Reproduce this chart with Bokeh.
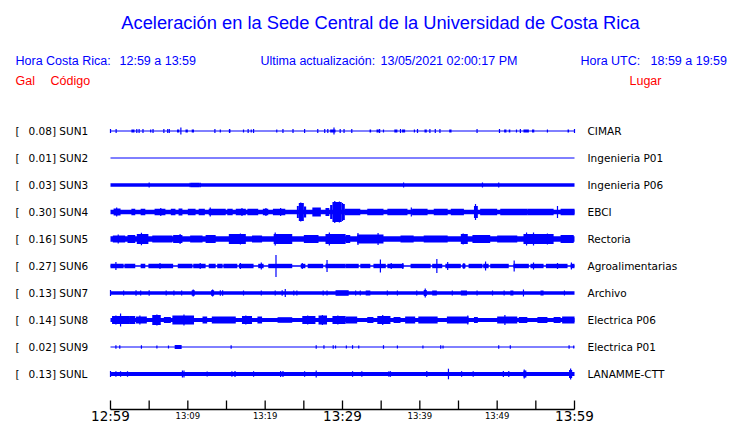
from bokeh.plotting import figure
from bokeh.models import Range1d
from bokeh.core.properties import value
from bokeh.embed import file_html
from bokeh.resources import INLINE

# ---------------- data ----------------
stations = ["SUN1", "SUN2", "SUN3", "SUN4", "SUN5", "SUN6", "SUN7", "SUN8", "SUN9", "SUNL"]
peaks_gal = [0.08, 0.01, 0.03, 0.30, 0.16, 0.27, 0.13, 0.14, 0.02, 0.13]
places = ["CIMAR", "Ingenieria P01", "Ingenieria P06", "EBCI", "Rectoria",
          "Agroalimentarias", "Archivo", "Electrica P06", "Electrica P01", "LANAMME-CTT"]

# background noise half-amplitude of each trace (trace units, 27 per row)
noise_level = [0.5, 0.5, 1.8, 2.3, 2.7, 0.7, 1.7, 2.0, 0.5, 2.0]

# minutes after 12:59 and tick labels
tick_minutes = [0, 5, 10, 15, 20, 25, 30, 35, 40, 45, 50, 55, 60]
label_minutes = [0, 10, 20, 30, 40, 50, 60]
label_texts = ["12:59", "13:09", "13:19", "13:29", "13:39", "13:49", "13:59"]
label_major = [True, False, False, True, False, False, True]

# bursts: (start min, end min, half amplitude) ; spikes: (min, half amplitude)
SUN1_bursts = [(2.7, 3.1, 1.5), (8.6, 8.9, 1.5), (9.7, 10.0, 1.5), (10.5, 10.8, 1.5), (15.3, 15.5, 1.5),
               (28.4, 29.1, 1.5), (33.5, 33.7, 1.5), (34.4, 34.7, 1.5), (36.7, 37.1, 1.5), (37.7, 38.1, 1.5),
               (40.6, 40.9, 1.5), (43.8, 44.1, 1.5), (50.9, 51.2, 1.5), (51.5, 51.7, 1.5), (53.4, 54.1, 1.5),
               (54.5, 54.8, 1.5), (59.1, 59.3, 1.5)]
SUN1_spikes = [(0.0, 2), (0.73, 2), (3.4, 2), (3.7, 2), (4.2, 2), (5.2, 1.5), (5.5, 2), (6.9, 2), (7.4, 2),
               (7.6, 2), (9.1, 3.5), (13.5, 2), (14.2, 1.5), (15.4, 2), (17.2, 1.5), (17.8, 2), (18.2, 1.5),
               (18.5, 2), (21.5, 1.5), (22.3, 2), (23.6, 2), (25.1, 2), (26.8, 2), (27.7, 2), (28.1, 2),
               (28.9, 3.5), (29.7, 2), (30.2, 2), (31.2, 2), (34.8, 2), (35.3, 1.5), (37.5, 2), (39.3, 1.5),
               (39.7, 2), (41.3, 2), (42.0, 2), (42.6, 2), (47.4, 2), (50.3, 2), (52.5, 1.5), (53.0, 2),
               (56.5, 1.5), (60.0, 2)]
SUN2_bursts = []
SUN2_spikes = []
SUN3_bursts = [(10.4, 11.5, 2.2)]
SUN3_spikes = [(5.0, 2.5), (10.3, 2.3), (11.6, 2.3), (37.9, 2.5), (48.1, 2.5), (50.2, 2.5)]
SUN4_bursts = [(0.4, 1.3, 3.5), (2.7, 3.2, 3.3), (3.9, 4.5, 3.3), (5.7, 7.1, 3.3), (7.8, 8.4, 3.3),
               (8.8, 9.3, 3.5), (10.0, 11.0, 3.3), (11.4, 12.2, 3.3), (12.7, 14.9, 3.3), (15.1, 15.8, 3.3),
               (16.2, 17.5, 3.3), (17.7, 19.1, 3.3), (19.7, 20.4, 3.3), (21.0, 22.6, 3.3),
               (24.1, 24.35, 6), (24.35, 25.0, 9), (25.0, 25.3, 5.5), (26.1, 27.2, 4.5), (27.8, 28.3, 4),
               (28.4, 28.7, 7), (28.7, 29.9, 10), (29.9, 30.3, 8), (30.3, 32.3, 3.3), (33.2, 35.3, 3.3),
               (35.8, 38.4, 3.3), (39.0, 41.0, 3.3), (41.8, 43.6, 3.3), (44.0, 45.7, 3.3), (47.0, 47.5, 6),
               (47.8, 50.0, 3.3), (50.4, 53.9, 3.3), (53.9, 57.3, 3.3), (58.2, 60.0, 3.3)]
SUN4_spikes = [(24.6, 9.5), (29.0, 11), (29.6, 10.5), (30.0, 9), (47.2, 8), (38.9, 4.5), (57.8, 6),
               (0.8, 4.5), (6.5, 4), (12.9, 4.5), (17.0, 4), (20.1, 4), (22.0, 4)]
SUN5_bursts = [(0.3, 1.9, 3.5), (2.2, 3.2, 4), (3.4, 4.9, 5), (5.4, 8.0, 3.6), (8.1, 9.3, 4), (10.3, 11.9, 3.6),
               (12.3, 13.6, 4), (15.3, 17.5, 5), (18.3, 19.6, 3.6), (21.1, 23.5, 5), (25.0, 26.9, 4),
               (27.8, 30.4, 5), (30.4, 31.0, 4), (31.9, 35.3, 4.5), (37.5, 39.2, 3.6), (40.5, 43.6, 3.6),
               (45.3, 46.2, 5), (46.8, 49.1, 4), (50.0, 52.6, 3.6), (53.4, 57.3, 5), (58.2, 59.9, 4)]
SUN5_spikes = [(4.0, 6.3), (16.8, 5.5), (21.3, 6.5), (28.3, 6.5), (32.0, 6), (34.6, 6), (45.6, 5.5),
               (53.8, 6.5), (54.7, 6.5), (56.5, 5.5), (1.0, 4.5), (9.0, 5)]
SUN6_bursts = [(0.0, 1.7, 2.2), (1.8, 3.2, 2.2), (3.9, 4.5, 2.2), (4.9, 8.1, 2.2), (8.7, 10.6, 2.2),
               (10.7, 12.3, 2.2), (12.7, 13.6, 2.2), (13.8, 14.5, 2.2), (14.6, 16.4, 2.2), (16.6, 18.5, 2.2),
               (19.1, 19.8, 2.2), (20.4, 23.5, 2.2), (24.6, 25.2, 2.2), (25.5, 27.5, 2.2), (27.8, 30.4, 2.2),
               (30.4, 32.1, 2.2), (32.3, 33.6, 2.2), (34.0, 35.6, 2.2), (35.8, 37.9, 2.2), (38.8, 41.4, 2.2),
               (41.6, 42.9, 2.2), (43.3, 45.3, 2.2), (45.5, 45.9, 2.2), (46.3, 48.1, 2.2), (48.2, 48.9, 2.2),
               (49.1, 51.5, 2.2), (52.1, 54.1, 2.2), (54.3, 56.0, 2.2), (56.3, 59.1, 2.2), (59.5, 60.0, 2.2)]
SUN6_spikes = [(0.7, 4), (6.4, 3), (11.6, 3), (16.8, 3), (19.5, 3.5), (21.4, 11), (24.8, 3), (28.0, 6),
               (34.9, 6.5), (36.3, 3), (37.8, 3), (42.2, 7), (43.6, 4), (45.7, 3), (48.5, 4.5), (52.2, 5.5),
               (54.7, 3.5), (57.8, 3), (59.6, 3.5)]
SUN7_bursts = [(29.1, 30.8, 2.8), (33.0, 33.6, 2.5), (40.5, 40.9, 3), (41.6, 42.2, 2.5), (45.3, 46.1, 2.5),
               (51.7, 52.1, 2.5), (55.6, 56.0, 2.5), (13.0, 13.4, 2.8), (10.5, 10.9, 2.8)]
SUN7_spikes = [(0.0, 3), (1.7, 2.5), (3.3, 2.8), (3.9, 2.5), (5.0, 2.8), (7.2, 2.5), (8.2, 2.5), (9.2, 2.5),
               (10.7, 3.5), (13.2, 3.5), (14.2, 2.8), (14.5, 2.8), (17.2, 2.5), (19.5, 2.5), (21.3, 2.5),
               (22.2, 2.8), (22.6, 4), (23.7, 2.5), (24.1, 2.5), (27.5, 2.5), (28.0, 2.5), (31.7, 2.5),
               (32.3, 2.5), (35.8, 2.5), (37.1, 2.5), (39.6, 2.5), (40.7, 4.5), (44.2, 2.5), (47.4, 2.5),
               (49.4, 2.5), (50.9, 2.5), (53.4, 3.5), (58.7, 2.5)]
SUN8_bursts = [(0.2, 2.4, 4), (2.4, 3.2, 4), (3.3, 4.7, 3.5), (5.4, 6.5, 5), (6.9, 7.8, 3), (8.0, 10.8, 4.5),
               (11.9, 12.5, 3.5), (13.1, 16.2, 3.5), (17.0, 18.3, 4), (19.0, 19.6, 3.5), (21.6, 23.5, 2.8),
               (24.8, 26.5, 4), (26.9, 28.0, 4.5), (28.7, 30.4, 4), (30.4, 31.9, 3.5), (33.2, 34.0, 3),
               (34.5, 36.2, 4), (36.6, 37.5, 3), (38.1, 39.4, 3.5), (39.8, 42.3, 3.5), (43.5, 46.3, 3.5),
               (47.0, 47.5, 3), (50.0, 52.6, 3.5), (52.8, 53.9, 3), (55.2, 56.5, 3), (57.3, 58.2, 3),
               (58.4, 60.0, 3.5)]
SUN8_spikes = [(1.3, 6.5), (6.0, 5.5), (9.5, 5.5), (46.2, 4.5), (51.0, 5), (0.7, 4.5), (3.8, 4.5),
               (17.5, 4.5), (25.5, 4.5), (27.4, 5), (29.4, 4.5), (35.2, 5)]
SUN9_bursts = [(8.3, 9.2, 2)]
SUN9_spikes = [(0.7, 1.8), (1.2, 1.8), (4.0, 1.8), (6.0, 1.5), (7.5, 1.5), (15.6, 1.8), (26.6, 1.8),
               (27.6, 1.8), (28.8, 1.8), (29.1, 1.5), (30.5, 1.5), (31.3, 1.8), (32.1, 1.5), (35.3, 1.8),
               (37.1, 1.5), (40.4, 1.5), (42.7, 1.8), (43.0, 1.5), (50.2, 1.8), (51.7, 1.8), (59.3, 1.8),
               (59.9, 1.5)]
SUNL_bursts = [(53.4, 53.7, 3.3), (59.3, 59.7, 4)]
SUNL_spikes = [(0.0, 3), (0.7, 2.8), (1.3, 2.8), (2.2, 2.8), (9.3, 3.5), (9.5, 3.5), (12.5, 2.5), (15.7, 2.8),
               (16.1, 3), (18.5, 2.8), (22.0, 3), (22.3, 3), (25.1, 2.8), (26.6, 3.5), (31.3, 2.8), (32.5, 2.8),
               (36.0, 2.8), (36.2, 2.8), (40.9, 3), (43.7, 5.3), (45.4, 2.8), (46.9, 2.8), (50.8, 3),
               (51.5, 3), (53.5, 4.5), (53.7, 3.5), (59.5, 5.5), (59.4, 4)]

all_bursts = [SUN1_bursts, SUN2_bursts, SUN3_bursts, SUN4_bursts, SUN5_bursts,
              SUN6_bursts, SUN7_bursts, SUN8_bursts, SUN9_bursts, SUNL_bursts]
all_spikes = [SUN1_spikes, SUN2_spikes, SUN3_spikes, SUN4_spikes, SUN5_spikes,
              SUN6_spikes, SUN7_spikes, SUN8_spikes, SUN9_spikes, SUNL_spikes]

# ---------------- layout helpers ----------------
W, H = 740, 423
PX_PER_MIN = 464 / 60.0
ROW_PX = 27.0
ROW0 = 130.5


def tx(px):
    return (px - 110) / PX_PER_MIN


def ry(py):
    return (py - ROW0) / ROW_PX


BLUE = "#0000ff"
RED = "#ff0000"

p = figure(width=W, height=H, output_backend="svg", toolbar_location=None,
           x_range=Range1d(tx(0), tx(W)), y_range=Range1d(ry(H), ry(0)),
           x_axis_type=None, y_axis_type=None, min_border=0, outline_line_color=None,
           background_fill_color="white", border_fill_color="white")
p.xgrid.visible = False
p.ygrid.visible = False

t_end = tick_minutes[-1]

# traces
for i in range(len(stations)):
    lw = 2 * noise_level[i]
    p.segment(x0=[0], y0=[i], x1=[t_end], y1=[i], line_color=BLUE, line_width=lw)
    b = all_bursts[i]
    if b:
        p.quad(left=[q[0] for q in b], right=[q[1] for q in b],
               bottom=[i - q[2] / ROW_PX for q in b], top=[i + q[2] / ROW_PX for q in b],
               fill_color=BLUE, line_color=None)
    s = all_spikes[i]
    if s:
        p.segment(x0=[q[0] for q in s], x1=[q[0] for q in s],
                  y0=[i - q[1] / ROW_PX for q in s], y1=[i + q[1] / ROW_PX for q in s],
                  line_color=BLUE, line_width=1.2)

rows = list(range(len(stations)))
lab_font = value("DejaVu Sans")
p.text(x=[tx(15)] * len(rows), y=rows, text=["["] * len(rows), text_font=lab_font,
       text_font_size="10.5px", text_baseline="middle", text_color="black")
p.text(x=[tx(28)] * len(rows), y=rows,
       text=[f"{v:.2f}] {s}" for v, s in zip(peaks_gal, stations)], text_font=lab_font,
       text_font_size="10.5px", text_baseline="middle", text_color="black")
p.text(x=[tx(587)] * len(rows), y=rows, text=places, text_font=lab_font,
       text_font_size="10.5px", text_baseline="middle", text_color="black")

# time axis
AX_Y = 409
p.segment(x0=[tick_minutes[0]], x1=[t_end], y0=[ry(AX_Y)], y1=[ry(AX_Y)], line_color="black", line_width=1.3)
p.segment(x0=tick_minutes, x1=tick_minutes, y0=[ry(AX_Y - 9)] * len(tick_minutes),
          y1=[ry(AX_Y)] * len(tick_minutes), line_color="black", line_width=1.3)
big = [(m, t) for m, t, b in zip(label_minutes, label_texts, label_major) if b]
small = [(m, t) for m, t, b in zip(label_minutes, label_texts, label_major) if not b]
p.text(x=[m for m, _ in big], y=[ry(415.5)] * len(big), text=[t for _, t in big], text_font=lab_font,
       text_font_size="13.5px", text_align="center", text_baseline="middle", text_color="black")
p.text(x=[m for m, _ in small], y=[ry(415.5)] * len(small), text=[t for _, t in small], text_font=lab_font,
       text_font_size="8.5px", text_align="center", text_baseline="middle", text_color="black")

# header texts
hfont = value("Liberation Sans")
p.text(x=[tx(380)], y=[ry(22)], text=["Aceleración en la Sede Central de la Universidad de Costa Rica"],
       text_font=hfont, text_font_size="18.3px", text_align="center", text_baseline="middle", text_color=BLUE)
p.text(x=[tx(15), tx(119), tx(260), tx(380), tx(580), tx(650)], y=[ry(60)] * 6,
       text=["Hora Costa Rica:", "12:59 a 13:59", "Ultima actualización:", "13/05/2021 02:00:17 PM",
             "Hora UTC:", "18:59 a 19:59"],
       text_font=hfont, text_font_size="12.5px", text_baseline="middle", text_color=BLUE)
p.text(x=[tx(15), tx(50), tx(629)], y=[ry(80)] * 3, text=["Gal", "Código", "Lugar"],
       text_font=hfont, text_font_size="12.5px", text_baseline="middle", text_color=RED)

open("out.html", "w").write(file_html(p, INLINE))
